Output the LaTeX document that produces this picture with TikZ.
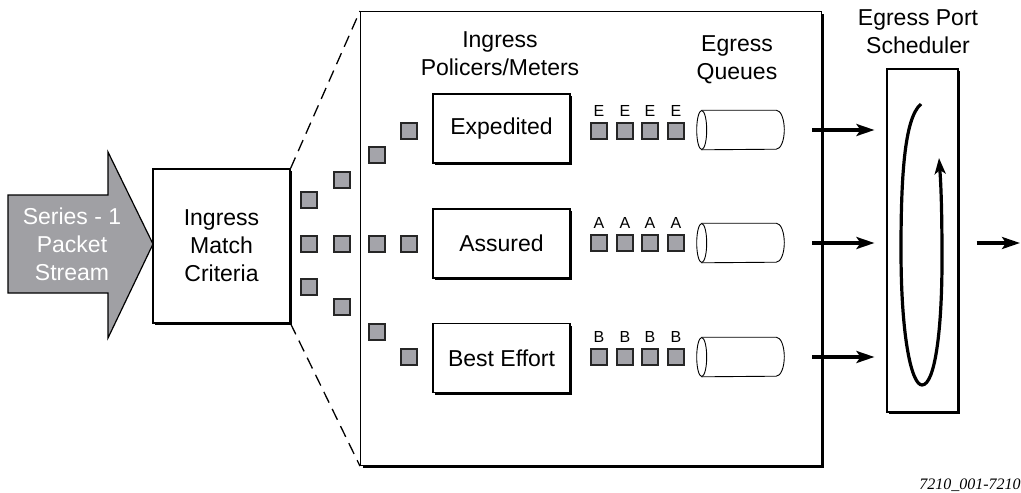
\documentclass[tikz,border=0pt]{standalone}
\usepackage{fontspec}
\setmainfont{Liberation Sans}
\newfontfamily\codefont{Liberation Serif}
\usetikzlibrary{arrows.meta,shapes.geometric,shadows}

\definecolor{pktgray}{RGB}{164,164,170}
\definecolor{streamgray}{RGB}{160,160,164}

\begin{document}
\begin{tikzpicture}[x=1pt,y=-1pt,
box/.style={draw, line width=1.1pt, fill=white, inner sep=0pt,
  drop shadow={shadow xshift=2.2pt, shadow yshift=-2.2pt, fill=black, opacity=1}},
pkt/.style={draw=black!85, line width=1.6pt, fill=pktgray, minimum size=16pt, inner sep=0pt},
cls/.style={font=\fontsize{16}{16}\selectfont, inner sep=1pt},
queue/.style={minimum width=87pt, minimum height=39pt, inner sep=0pt},
flow/.style={line width=3.2pt, -{Stealth[length=18pt,width=12pt,inset=4pt]}},
zoomline/.style={line width=1.3pt, dash pattern=on 12pt off 7pt},
every node/.style={font=\fontsize{23}{28}\selectfont, align=center},
semithick]

\useasboundingbox (0,0) rectangle (1021,493);

% packet stream arrow
\draw[line width=1.2pt, fill=streamgray] (8,195) -- (108,195) -- (108,152) -- (153,244)
  -- (108,338) -- (108,293) -- (8,293) -- cycle;
\node[text=white] (stream) at (72,244) {Series - 1\\Packet\\Stream};

\node[box, minimum width=137pt, minimum height=154pt] (match) at (221.5,246) {Ingress\\Match\\Criteria};
\node[box, minimum width=461pt, minimum height=454pt, anchor=north west] (main) at (360,11) {};

\draw[zoomline] (match.north east) -- (main.north west);
\draw[zoomline] (match.south east) -- (main.south west);

% classified packets
\foreach \x/\y [count=\i] in {309/200, 309/244, 309/287, 342/180, 342/244, 342/307,
  377/155, 377/244, 377/332, 409/131, 409/244, 409/357}
  \node[pkt] (in\i) at (\x,\y) {};

\node (polhead) at (500,54) {Ingress\\Policers/Meters};
\node (qhead) at (737,60) {Egress\\Queues};
\node (schedhead) at (918,32) {Egress Port\\Scheduler};

\node[box, minimum width=137pt, minimum height=69pt] (exp) at (501.5,128.5) {Expedited};
\node[box, minimum width=137pt, minimum height=69pt] (ass) at (501.5,243.5) {Assured};
\node[box, minimum width=137pt, minimum height=69pt] (be) at (501.5,358) {Best Effort};

\foreach \c/\y in {E/131, A/243, B/357}
  \foreach \x [count=\j] in {599,625,650,676}
    \node[pkt, label={[cls, label distance=4pt]above:\c}] (out\c\j) at (\x,\y) {};

% egress queues
\foreach \c/\y in {E/130, A/243, B/357} {
  \node[queue] (q\c) at (740.5,\y) {};
  \draw[line width=0.9pt, fill=white] ([xshift=5pt]q\c.north west) -- ([xshift=-8pt]q\c.north east)
    arc[start angle=90, end angle=-90, x radius=8pt, y radius=19.5pt]
    -- ([xshift=5pt]q\c.south west);
  \draw[line width=0.9pt] ([xshift=5pt]q\c.west) ellipse [x radius=5pt, y radius=19.5pt];
}

\node[box, minimum width=71pt, minimum height=343pt] (sched) at (922.5,240.5) {};

\foreach \c in {E,A,B}
  \draw[flow, shorten <=28pt, shorten >=12pt] (q\c.east) -- (q\c.east -| sched.west);

% round robin
\draw[line width=3.2pt, -{Stealth[length=16pt,width=11pt,inset=4pt]}] (921,104)
  .. controls (904,118) and (901,180) .. (901,250)
  .. controls (901,340) and (912,385) .. (922,385)
  .. controls (935,385) and (942,330) .. (942,260)
  .. controls (942,210) and (941,185) .. (939,158);

\coordinate (port) at (1020,243);
\draw[flow, shorten <=18pt] (sched.east |- port) -- (port);

\node[font=\codefont\itshape\fontsize{16}{16}\selectfont, anchor=east, inner sep=0pt] (figid) at (1021,485) {7210\_001-7210};
\end{tikzpicture}
\end{document}
